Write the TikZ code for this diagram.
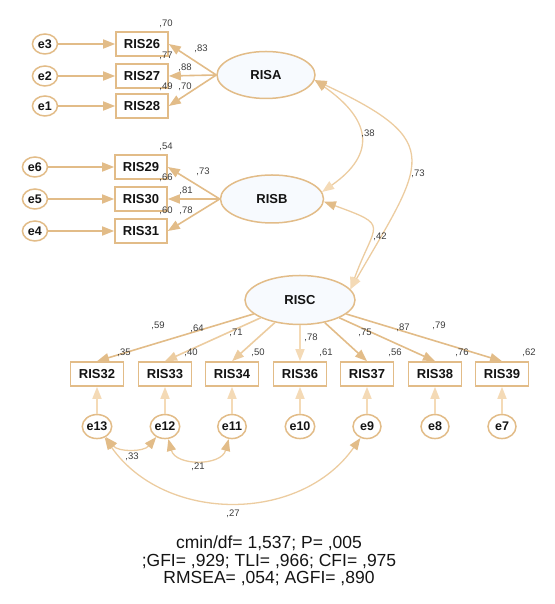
\documentclass[tikz,border=0pt]{standalone}
\usepackage{fontspec}
\setmainfont{Liberation Sans}
\usetikzlibrary{positioning,arrows.meta,shapes.geometric}
\definecolor{amosTan}{RGB}{226,188,136}
\definecolor{amosPale}{RGB}{244,218,182}
\definecolor{amosMid}{RGB}{236,204,160}
\definecolor{latFill}{RGB}{247,250,254}
\definecolor{txtDark}{RGB}{20,20,20}
\definecolor{coefGray}{RGB}{60,60,60}
\tikzset{
obs/.style={
  draw=amosTan,
  line width=1.6pt,
  fill=white,
  minimum width=52pt,
  minimum height=24pt,
  inner sep=0pt,
  text=txtDark,
  font=\fontsize{13}{15}\selectfont\bfseries
  },
obsb/.style={
  obs,
  minimum width=53pt,
  minimum height=24pt
  },
lat/.style={
  ellipse,
  draw=amosTan,
  line width=1.5pt,
  fill=latFill,
  inner sep=0pt,
  text=txtDark,
  font=\fontsize{13}{15}\selectfont\bfseries
  },
err/.style={
  ellipse,
  draw=amosTan,
  line width=1.5pt,
  fill=white,
  minimum width=25pt,
  minimum height=20pt,
  inner sep=0pt,
  text=txtDark,
  font=\fontsize{12.5}{14}\selectfont\bfseries
  },
errb/.style={
  err,
  minimum width=28pt,
  minimum height=24pt
  },
coef/.style={
  inner sep=0pt,
  text=coefGray,
  font=\fontsize{9.5}{11}\selectfont
  },
load/.style={->,draw=#1,line width=1.6pt},
load/.default=amosTan,
corr/.style={
  draw=amosMid,
  line width=1.3pt,
  arrows={Triangle[length=12pt,width=9pt,color=amosTan]-Triangle[length=12pt,width=9pt,color=#1]}
  },
corr/.default=amosPale
}
\begin{document}
\begin{tikzpicture}[x=1pt,y=1pt,>={Triangle[length=12pt,width=9pt]}]
\useasboundingbox (0,0) rectangle (554,604);

% RISA
\node[lat,minimum width=98pt,minimum height=47pt] (RISA) at (266,529) {RISA};
\node[obs] (RIS26) at (142,560) {RIS26};
\node[obs] (RIS27) at (142,528) {RIS27};
\node[obs] (RIS28) at (142,498) {RIS28};
\node[err,left=57pt of RIS26] (e3) {e3};
\node[err,left=57pt of RIS27] (e2) {e2};
\node[err,left=57pt of RIS28] (e1) {e1};

% RISB
\node[lat,minimum width=103pt,minimum height=48pt] (RISB) at (272,405) {RISB};
\node[obs] (RIS29) at (141,437) {RIS29};
\node[obs] (RIS30) at (141,405) {RIS30};
\node[obs] (RIS31) at (141,373) {RIS31};
\node[err,left=66pt of RIS29] (e6) {e6};
\node[err,left=66pt of RIS30] (e5) {e5};
\node[err,left=66pt of RIS31] (e4) {e4};

% RISC
\node[lat,minimum width=110pt,minimum height=49pt] (RISC) at (300,304) {RISC};
\node[obsb] (RIS32) at (97,230) {RIS32};
\node[obsb] (RIS33) at (165,230) {RIS33};
\node[obsb] (RIS34) at (232,230) {RIS34};
\node[obsb] (RIS36) at (300,230) {RIS36};
\node[obsb] (RIS37) at (367,230) {RIS37};
\node[obsb] (RIS38) at (435,230) {RIS38};
\node[obsb] (RIS39) at (502,230) {RIS39};
\node[errb,below=27pt of RIS32] (e13) {e13};
\node[errb,below=27pt of RIS33] (e12) {e12};
\node[errb,below=27pt of RIS34] (e11) {e11};
\node[errb,below=27pt of RIS36] (e10) {e10};
\node[errb,below=27pt of RIS37] (e9) {e9};
\node[errb,below=27pt of RIS38] (e8) {e8};
\node[errb,below=27pt of RIS39] (e7) {e7};

% paths
\draw[load] (e3) -- (RIS26);
\draw[load] (e2) -- (RIS27);
\draw[load] (e1) -- (RIS28);
\draw[load] (RISA.west) -- (RIS26.east);
\draw[load] (RISA.west) -- (RIS27.east);
\draw[load] (RISA.west) -- (RIS28.east);
\draw[load] (e6) -- (RIS29);
\draw[load] (e5) -- (RIS30);
\draw[load] (e4) -- (RIS31);
\draw[load] (RISB.west) -- (RIS29.east);
\draw[load] (RISB.west) -- (RIS30.east);
\draw[load] (RISB.west) -- (RIS31.east);
\draw[load] (RISC) -- (RIS32.north);
\draw[load=amosMid] (RISC) -- (RIS33.north);
\draw[load=amosMid] (RISC) -- (RIS34.north);
\draw[load=amosPale] (RISC) -- (RIS36.north);
\draw[load] (RISC) -- (RIS37.north);
\draw[load] (RISC) -- (RIS38.north);
\draw[load] (RISC) -- (RIS39.north);
\draw[load=amosPale] (e13) -- (RIS32);
\draw[load=amosPale] (e12) -- (RIS33);
\draw[load=amosPale] (e11) -- (RIS34);
\draw[load=amosPale] (e10) -- (RIS36);
\draw[load=amosPale] (e9) -- (RIS37);
\draw[load=amosPale] (e8) -- (RIS38);
\draw[load=amosPale] (e7) -- (RIS39);

% covariances
\draw[corr] (RISA.-6) to[out=-35,in=35,looseness=1.55] (RISB.8);
\draw[corr] (RISA.-6) to[out=-25,in=60,looseness=1.77] (RISC.12);
\draw[corr] (RISB.-3) to[out=-20,in=70,looseness=2] (RISC.12);
\draw[corr=amosTan] (e13.-50) to[out=-50,in=-130] (e12.-130);
\draw[corr=amosTan] (e12.-75) to[out=-75,in=-105,looseness=1.2] (e11.-105);
\draw[corr=amosTan] (e13.-55) to[out=-55,in=-125,looseness=1.05] (e9.-120);

% estimates
\node[coef] (r26) at (166,580) {,70};
\node[coef] (l26) at (201,555) {,83};
\node[coef] (r27) at (166,548) {,77};
\node[coef] (l27) at (185,536) {,88};
\node[coef] (r28) at (166,517) {,49};
\node[coef] (l28) at (185,517) {,70};
\node[coef] (r29) at (166,457) {,54};
\node[coef] (l29) at (203,432) {,73};
\node[coef] (r30) at (166,426) {,66};
\node[coef] (l30) at (186,413) {,81};
\node[coef] (r31) at (166,393) {,60};
\node[coef] (l31) at (186,393) {,78};
\node[coef] (cAB) at (368,470) {,38};
\node[coef] (cAC) at (418,430) {,73};
\node[coef] (cBC) at (380,367) {,42};
\node[coef] (l32) at (158,278) {,59};
\node[coef] (l33) at (197,275) {,64};
\node[coef] (l34) at (236,271) {,71};
\node[coef] (l36) at (311,266) {,78};
\node[coef] (l37) at (365,271) {,75};
\node[coef] (l38) at (403,276) {,87};
\node[coef] (l39) at (439,278) {,79};
\node[coef] (r32) at (124,251) {,35};
\node[coef] (r33) at (191,251) {,40};
\node[coef] (r34) at (258,251) {,50};
\node[coef] (r36) at (326,251) {,61};
\node[coef] (r37) at (395,251) {,56};
\node[coef] (r38) at (462,251) {,76};
\node[coef] (r39) at (529,251) {,62};
\node[coef] (c1312) at (132,147) {,33};
\node[coef] (c1211) at (198,137) {,21};
\node[coef] (c139) at (233,90) {,27};

\node[align=center,text=txtDark,font=\fontsize{17.5}{17.5}\selectfont] (fit) at (269,43)
  {cmin/df= 1,537; P= ,005\\;GFI= ,929; TLI= ,966; CFI= ,975\\RMSEA= ,054; AGFI= ,890};
\end{tikzpicture}
\end{document}
